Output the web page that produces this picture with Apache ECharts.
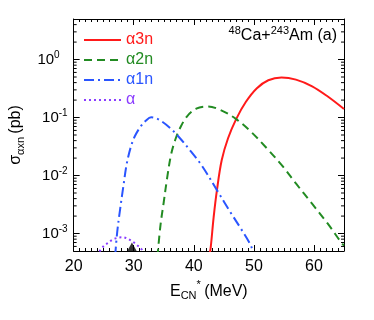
<!DOCTYPE html>
<html>
<head>
<meta charset="utf-8">
<script src="https://cdn.jsdelivr.net/npm/echarts@6/dist/echarts.min.js"></script>
<style>
  html, body { margin: 0; padding: 0; background: #fff; }
  #chart { width: 374px; height: 320px; }
</style>
</head>
<body>
<div id="chart"></div>
<script>
// 横轴范围 (MeV)
const X_MIN = 20;
const X_MAX = 65;
const Y_MIN = 5e-4;
const Y_MAX = 5;

// α3n
const a3nX = [42.55, 42.8, 43.3, 43.85, 44.65, 45.7, 47.05, 48.65, 50.5, 52.4, 54.6, 57.0, 59.7, 62.3, 65.0];
const a3nY = [4e-4, 5.6e-4, 1.9e-3, 5.6e-3, 0.0185, 0.044, 0.094, 0.185, 0.32, 0.44, 0.49, 0.45, 0.345, 0.23, 0.14];
// α2n
const a2nX = [33.95, 34.45, 35.0, 35.55, 36.2, 36.9, 37.7, 38.85, 40.4, 42.3, 44.65, 47.05, 49.5, 52.15, 54.85, 57.0, 59.65, 62.3, 64.5, 65.0];
const a2nY = [4e-4, 1.38e-3, 3.5e-3, 8.9e-3, 0.0226, 0.041, 0.0655, 0.104, 0.142, 0.155, 0.132, 0.094, 0.057, 0.0295, 0.0142, 0.0073, 0.0033, 0.00148, 0.00071, 0.00062];
// α1n
const a1nX = [26.9, 27.25, 27.75, 28.3, 28.85, 29.55, 30.2, 31.15, 32.0, 32.9, 34.2, 36.1, 37.7, 39.55, 41.4, 43.85, 46.25, 47.85, 49.5, 50.0];
const a1nY = [4e-4, 1.06e-3, 2.7e-3, 6.8e-3, 0.0162, 0.032, 0.048, 0.07, 0.088, 0.101, 0.092, 0.0655, 0.044, 0.0258, 0.0145, 0.0056, 0.0022, 0.00121, 6.2e-4, 4.2e-4];
// α
const a0X = [24.3, 24.98, 25.74, 26.43, 27.35, 28.2, 29.0, 29.8, 30.45, 31.25, 31.5];
const a0Y = [4.9e-4, 6.05e-4, 6.93e-4, 7.8e-4, 8.45e-4, 8.6e-4, 8.1e-4, 7.3e-4, 6.45e-4, 5.45e-4, 5e-4];
// 三角标记
const markerX = [29.7];

// 对数轴次刻度 2..9 × 10^n
const minorY = [];
for (let e = -4; e <= 0; e++) {
  for (let m = 2; m <= 9; m++) {
    const v = m * Math.pow(10, e);
    if (v > Y_MIN && v < Y_MAX) minorY.push(v);
  }
}

const FONT = "Liberation Sans";
const zip = (xs, ys) => xs.map((x, i) => [x, ys[i]]);

const chart = echarts.init(document.getElementById("chart"));

const supRich = {
  b: { fontSize: 15, fontFamily: FONT, color: "#000" },
  s: { fontSize: 10, fontFamily: FONT, color: "#000", padding: [0, 0, 9, 0] },
  s0: { fontSize: 10, fontFamily: FONT, color: "#000", padding: [0, 8, 9, 0] }
};

function logLabel(v) {
  const l = Math.log10(v);
  const e = Math.round(l);
  if (Math.abs(l - e) > 1e-6) return "";
  if (e === 0) return "{b|10}{s0|0}";
  return "{b|10}{s|" + e + "}";
}

function line(name, data, color, type) {
  return {
    name: name,
    type: "line",
    data: data,
    symbol: "none",
    smooth: 0.35,
    clip: true,
    lineStyle: { color: color, width: 2, type: type },
    itemStyle: { color: color },
    z: 3
  };
}

const option = {
  animation: false,
  grid: { left: 65, right: 30, top: 19, bottom: 69 },
  legend: {
    orient: "vertical",
    left: 78,
    top: 27,
    itemWidth: 37,
    itemHeight: 14,
    itemGap: 4,
    itemStyle: { opacity: 0 },
    textStyle: { fontSize: 16, fontFamily: FONT },
    data: [
      { name: "α3n", textStyle: { color: "#ff1a1a" } },
      { name: "α2n", textStyle: { color: "#228b22" } },
      { name: "α1n", textStyle: { color: "#2a55ff" } },
      { name: "α", textStyle: { color: "#8a3cff" } }
    ]
  },
  xAxis: [
    {
      type: "value",
      min: X_MIN,
      max: X_MAX,
      interval: 10,
      name: "{b|E}{sub|CN}{sup|*} {b|(MeV)}",
      nameLocation: "middle",
      nameGap: 26,
      nameTextStyle: {
        rich: {
          b: { fontSize: 16, fontFamily: FONT, color: "#000" },
          sub: { fontSize: 11, fontFamily: FONT, color: "#000", padding: [10, 0, 0, 0] },
          sup: { fontSize: 11, fontFamily: FONT, color: "#000", padding: [0, 0, 12, 0] }
        }
      },
      axisLine: { onZero: false, lineStyle: { color: "#000", width: 1 } },
      axisTick: { inside: true, length: 6, lineStyle: { color: "#000" } },
      minorTick: { show: true, splitNumber: 10, length: 3, lineStyle: { color: "#000" } },
      axisLabel: {
        fontSize: 16,
        fontFamily: FONT,
        color: "#000",
        margin: 8,
        showMaxLabel: false
      },
      splitLine: { show: false }
    },
    {
      type: "value",
      position: "top",
      min: X_MIN,
      max: X_MAX,
      interval: 10,
      axisLine: { onZero: false, lineStyle: { color: "#000", width: 1 } },
      axisTick: { inside: true, length: 6, lineStyle: { color: "#000" } },
      minorTick: { show: true, splitNumber: 10, length: 3, lineStyle: { color: "#000" } },
      axisLabel: { show: false },
      splitLine: { show: false }
    }
  ],
  yAxis: [
    {
      type: "log",
      logBase: 10,
      min: Y_MIN,
      max: Y_MAX,
      name: "{b|σ}{sub|αxn} {b|(pb)}",
      nameLocation: "middle",
      nameRotate: 90,
      nameGap: 42,
      nameTextStyle: {
        rich: {
          b: { fontSize: 16, fontFamily: FONT, color: "#000" },
          sub: { fontSize: 11, fontFamily: FONT, color: "#000", padding: [10, 0, 0, 0] }
        }
      },
      axisLine: { onZero: false, lineStyle: { color: "#000", width: 1 } },
      axisTick: { inside: true, length: 6, lineStyle: { color: "#000" } },
      axisLabel: {
        margin: 6,
        formatter: logLabel,
        rich: supRich
      },
      splitLine: { show: false }
    },
    {
      type: "log",
      logBase: 10,
      position: "right",
      min: Y_MIN,
      max: Y_MAX,
      axisLine: { onZero: false, lineStyle: { color: "#000", width: 1 } },
      axisTick: { inside: true, length: 6, lineStyle: { color: "#000" } },
      axisLabel: { show: false },
      splitLine: { show: false }
    }
  ],
  graphic: [
    {
      type: "text",
      right: 37,
      top: 25,
      style: {
        text: "{s|48}{b|Ca+}{s|243}{b|Am (a)}",
        rich: {
          b: { fontSize: 16, fontFamily: FONT, fill: "#000", color: "#000" },
          s: { fontSize: 11, fontFamily: FONT, fill: "#000", color: "#000", padding: [0, 0, 10, 0] }
        }
      }
    }
  ],
  series: [
    line("α3n", zip(a3nX, a3nY), "#ff1a1a", "solid"),
    line("α2n", zip(a2nX, a2nY), "#228b22", [8, 5]),
    line("α1n", zip(a1nX, a1nY), "#2a55ff", [10, 4, 2, 4]),
    line("α", zip(a0X, a0Y), "#8a3cff", [2, 3]),
    {
      type: "scatter",
      data: markerX.map(x => [x, Y_MIN]),
      symbol: "triangle",
      symbolSize: [10, 9],
      symbolOffset: [0, -4],
      itemStyle: { color: "#000" },
      clip: false,
      silent: true,
      z: 5
    },
    {
      type: "custom",
      data: minorY.map(v => [X_MIN, v]),
      clip: false,
      silent: true,
      z: 4,
      renderItem: function (params, api) {
        const v = api.value(1);
        const pl = api.coord([X_MIN, v]);
        const pr = api.coord([X_MAX, v]);
        return {
          type: "group",
          children: [
            { type: "line", shape: { x1: pl[0], y1: pl[1], x2: pl[0] + 3, y2: pl[1] }, style: { stroke: "#000", lineWidth: 1 } },
            { type: "line", shape: { x1: pr[0], y1: pr[1], x2: pr[0] - 3, y2: pr[1] }, style: { stroke: "#000", lineWidth: 1 } }
          ]
        };
      }
    }
  ]
};

chart.setOption(option);
</script>
</body>
</html>
